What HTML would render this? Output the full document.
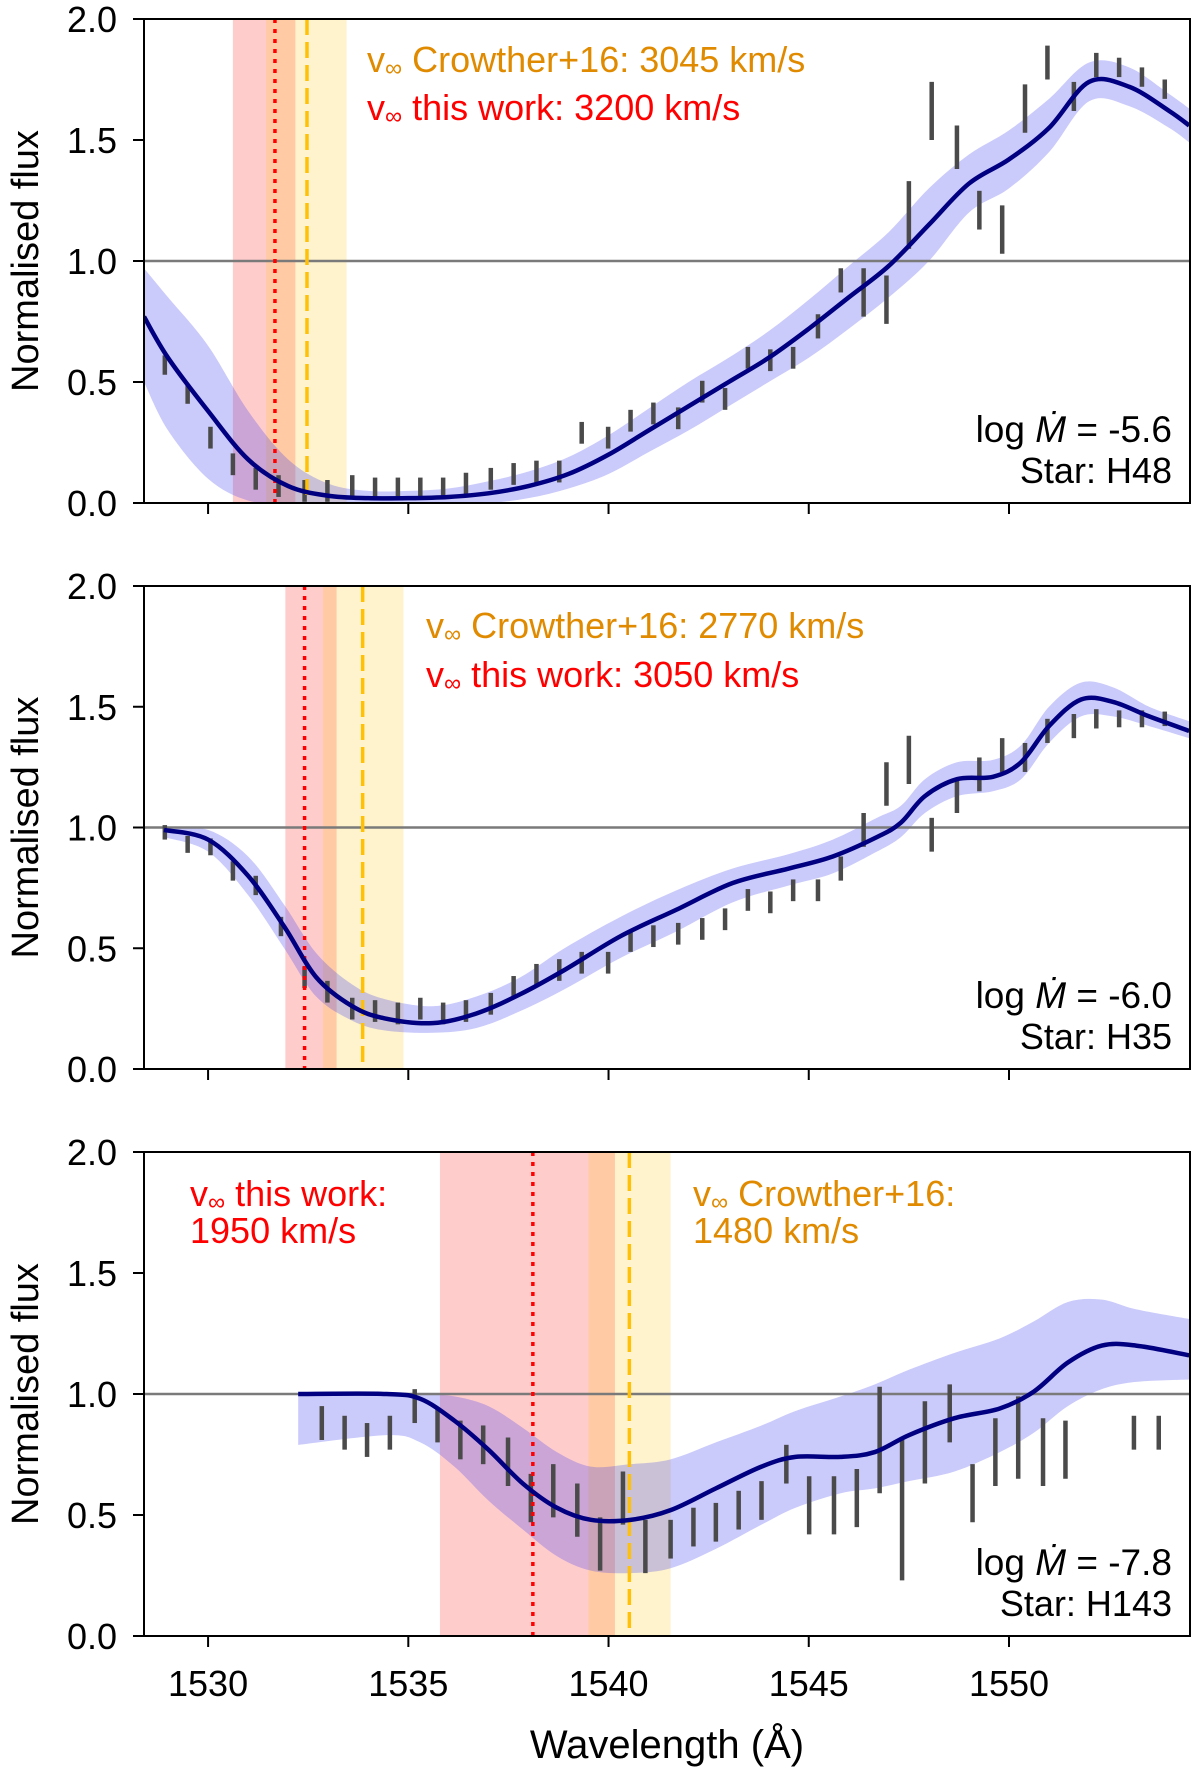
<!DOCTYPE html>
<html><head><meta charset="utf-8">
<style>
html,body{margin:0;padding:0;background:#fff;}
svg{display:block;font-family:"Liberation Sans","DejaVu Sans",sans-serif;}
</style></head>
<body>
<svg id="chart" width="1200" height="1784" viewBox="0 0 1200 1784"></svg>
<script>
// ---------- Panel 1 (H48) ----------
const p1ModelWl = [1528.4,1529,1530,1531,1532,1533,1534,1535,1536,1537,1538,1539,1540,1541,1542,1543,1544,1545,1546,1547,1548,1549,1550,1551,1552,1553,1554,1554.5];
const p1ModelFlux = [0.77,0.6,0.38,0.18,0.07,0.03,0.02,0.02,0.025,0.04,0.07,0.12,0.2,0.3,0.4,0.5,0.6,0.72,0.85,0.98,1.15,1.32,1.42,1.55,1.74,1.72,1.62,1.56];
const p1BandLo = [0.5,0.3,0.1,0.01,0.0,0.0,0.0,0.0,0.0,0.0,0.02,0.06,0.12,0.21,0.3,0.4,0.5,0.6,0.72,0.85,1.0,1.2,1.3,1.45,1.66,1.64,1.55,1.49];
const p1BandHi = [0.97,0.85,0.65,0.38,0.18,0.08,0.05,0.05,0.06,0.09,0.13,0.19,0.28,0.39,0.5,0.6,0.71,0.84,0.98,1.12,1.3,1.44,1.54,1.67,1.82,1.8,1.69,1.63];
const p1DataWl = [1528.92,1529.49,1530.06,1530.62,1531.19,1531.76,1532.41,1532.98,1533.6,1534.17,1534.74,1535.3,1535.87,1536.44,1537.06,1537.63,1538.2,1538.77,1539.33,1539.99,1540.55,1541.12,1541.74,1542.34,1542.91,1543.48,1544.04,1544.61,1545.23,1545.8,1546.37,1546.94,1547.5,1548.07,1548.7,1549.26,1549.83,1550.4,1550.96,1551.62,1552.18,1552.75,1553.32,1553.89];
const p1DataFlux = [0.57,0.45,0.27,0.16,0.1,0.07,0.05,0.05,0.07,0.06,0.06,0.06,0.06,0.08,0.1,0.12,0.13,0.13,0.29,0.27,0.34,0.37,0.35,0.46,0.43,0.6,0.59,0.6,0.73,0.92,0.87,0.84,1.19,1.62,1.47,1.21,1.13,1.63,1.82,1.68,1.81,1.8,1.76,1.71];
const p1DataErr = [0.04,0.04,0.045,0.045,0.045,0.045,0.045,0.045,0.045,0.045,0.045,0.045,0.045,0.045,0.045,0.045,0.045,0.045,0.045,0.045,0.045,0.045,0.045,0.045,0.045,0.045,0.045,0.045,0.05,0.05,0.1,0.1,0.14,0.12,0.09,0.08,0.1,0.1,0.07,0.06,0.05,0.04,0.04,0.04];

// ---------- Panel 2 (H35) ----------
const p2ModelWl = [1528.9,1530,1531,1531.9,1532.7,1533.6,1534.4,1535.6,1536.7,1537.8,1538.9,1540.3,1541.7,1543.1,1544.5,1545.6,1546.7,1547.3,1547.9,1548.7,1549.6,1550.3,1551,1551.8,1552.6,1553.5,1554.5];
const p2ModelFlux = [0.99,0.95,0.8,0.59,0.38,0.26,0.21,0.19,0.23,0.31,0.41,0.55,0.66,0.77,0.83,0.88,0.96,1.02,1.13,1.2,1.21,1.27,1.42,1.53,1.52,1.46,1.4];
const p2BandLo = [0.96,0.9,0.72,0.5,0.3,0.2,0.16,0.15,0.17,0.24,0.33,0.46,0.57,0.69,0.76,0.81,0.9,0.96,1.06,1.13,1.15,1.2,1.35,1.46,1.46,1.42,1.37];
const p2BandHi = [1.0,0.99,0.88,0.68,0.48,0.35,0.29,0.26,0.3,0.38,0.5,0.63,0.74,0.83,0.89,0.95,1.04,1.09,1.2,1.27,1.28,1.34,1.5,1.6,1.58,1.5,1.44];
const p2DataWl = [1528.92,1529.49,1530.06,1530.62,1531.19,1531.82,1532.41,1532.98,1533.6,1534.17,1534.74,1535.3,1535.87,1536.44,1537.06,1537.63,1538.2,1538.77,1539.33,1539.99,1540.55,1541.12,1541.74,1542.34,1542.91,1543.48,1544.04,1544.61,1545.23,1545.8,1546.37,1546.94,1547.5,1548.07,1548.7,1549.26,1549.83,1550.4,1550.96,1551.62,1552.18,1552.75,1553.32,1553.89];
const p2DataFlux = [0.98,0.93,0.92,0.82,0.76,0.59,0.38,0.32,0.25,0.24,0.23,0.25,0.23,0.24,0.27,0.34,0.39,0.41,0.44,0.44,0.53,0.55,0.56,0.58,0.62,0.7,0.69,0.74,0.74,0.83,0.99,1.18,1.28,0.97,1.13,1.22,1.3,1.29,1.4,1.42,1.45,1.45,1.45,1.45];
const p2DataErr = [0.03,0.035,0.035,0.04,0.04,0.04,0.045,0.045,0.045,0.045,0.045,0.045,0.045,0.045,0.045,0.045,0.045,0.045,0.045,0.045,0.045,0.045,0.045,0.045,0.045,0.045,0.045,0.045,0.045,0.05,0.07,0.09,0.1,0.07,0.07,0.07,0.07,0.06,0.05,0.05,0.04,0.035,0.035,0.03];

// ---------- Panel 3 (H143) ----------
const p3ModelWl = [1532.25,1534.46,1535.3,1536.15,1537.0,1537.86,1538.71,1539.56,1540.55,1541.55,1542.68,1543.82,1544.67,1545.8,1546.65,1547.5,1548.64,1549.77,1550.62,1551.47,1552.32,1553.17,1554.5];
const p3ModelFlux = [1.0,1.0,0.98,0.89,0.77,0.63,0.53,0.48,0.48,0.52,0.61,0.7,0.74,0.74,0.76,0.83,0.9,0.94,1.01,1.13,1.2,1.2,1.16];
const p3BandLo = [0.79,0.83,0.8,0.7,0.56,0.44,0.33,0.27,0.26,0.28,0.36,0.46,0.53,0.59,0.61,0.64,0.68,0.76,0.84,0.95,1.02,1.05,1.06];
const p3BandHi = [1.0,1.0,1.0,0.99,0.95,0.86,0.76,0.7,0.71,0.73,0.8,0.87,0.93,0.99,1.04,1.1,1.17,1.23,1.3,1.38,1.39,1.35,1.31];
const p3DataWl = [1532.84,1533.41,1533.97,1534.54,1535.16,1535.73,1536.3,1536.87,1537.49,1538.06,1538.62,1539.22,1539.79,1540.36,1540.92,1541.55,1542.12,1542.68,1543.25,1543.82,1544.44,1545.01,1545.63,1546.2,1546.77,1547.33,1547.9,1548.52,1549.09,1549.66,1550.23,1550.85,1551.41,1553.12,1553.74];
const p3DataFlux = [0.88,0.84,0.81,0.84,0.95,0.87,0.81,0.79,0.72,0.57,0.6,0.52,0.38,0.57,0.37,0.4,0.45,0.47,0.52,0.56,0.71,0.54,0.54,0.57,0.81,0.52,0.8,0.92,0.59,0.76,0.82,0.76,0.77,0.84,0.84];
const p3DataErr = [0.07,0.07,0.07,0.07,0.07,0.07,0.08,0.08,0.1,0.1,0.11,0.11,0.11,0.11,0.11,0.08,0.08,0.08,0.08,0.08,0.08,0.12,0.12,0.12,0.22,0.29,0.17,0.12,0.12,0.14,0.17,0.14,0.12,0.07,0.07];

// vertical markers: [redLo, redHi, yellowLo, yellowHi, redLine, yellowLine]
const p1Vinf = [1530.62,1532.18,1531.45,1533.46,1531.67,1532.47];
const p2Vinf = [1531.93,1533.21,1532.87,1534.88,1532.41,1533.86];
const p3Vinf = [1535.79,1540.16,1539.5,1541.55,1538.11,1540.52];

const xTicks = [1530,1535,1540,1545,1550];
const yTicks = [0.0,0.5,1.0,1.5,2.0];
const yTickLabels = ["0.0","0.5","1.0","1.5","2.0"];

const NS = "http://www.w3.org/2000/svg";
const svg = document.getElementById('chart');
const X0 = 144, X1 = 1190, WLMIN = 1528.4, WLMAX = 1554.52;
function xs(w){ return X0 + (w - WLMIN) / (WLMAX - WLMIN) * (X1 - X0); }

function mk(tag, attrs, parent){
  const e = document.createElementNS(NS, tag);
  for (const k in attrs) e.setAttribute(k, attrs[k]);
  (parent || svg).appendChild(e);
  return e;
}
function smoothPath(pts){
  let d = "M" + pts[0][0].toFixed(2) + "," + pts[0][1].toFixed(2);
  for (let i = 0; i < pts.length - 1; i++){
    const p0 = pts[i-1] || pts[i], p1 = pts[i], p2 = pts[i+1], p3 = pts[i+2] || p2;
    const c1x = p1[0] + (p2[0]-p0[0])/6, c1y = p1[1] + (p2[1]-p0[1])/6;
    const c2x = p2[0] - (p3[0]-p1[0])/6, c2y = p2[1] - (p3[1]-p1[1])/6;
    d += " C" + c1x.toFixed(2)+","+c1y.toFixed(2)+" "+c2x.toFixed(2)+","+c2y.toFixed(2)+" "+p2[0].toFixed(2)+","+p2[1].toFixed(2);
  }
  return d;
}

const panels = [
  {top:19, bot:503, mw:p1ModelWl, mf:p1ModelFlux, lo:p1BandLo, hi:p1BandHi, dw:p1DataWl, df:p1DataFlux, de:p1DataErr, v:p1Vinf,
   ann:[{x:367,y:72,c:"#e08a00",t:"Crowther+16: 3045 km/s"},{x:367,y:120,c:"#ff0000",t:"this work: 3200 km/s"}],
   mdot:"-5.6", star:"H48"},
  {top:586, bot:1069, mw:p2ModelWl, mf:p2ModelFlux, lo:p2BandLo, hi:p2BandHi, dw:p2DataWl, df:p2DataFlux, de:p2DataErr, v:p2Vinf,
   ann:[{x:426,y:638,c:"#e08a00",t:"Crowther+16: 2770 km/s"},{x:426,y:687,c:"#ff0000",t:"this work: 3050 km/s"}],
   mdot:"-6.0", star:"H35"},
  {top:1152, bot:1636, mw:p3ModelWl, mf:p3ModelFlux, lo:p3BandLo, hi:p3BandHi, dw:p3DataWl, df:p3DataFlux, de:p3DataErr, v:p3Vinf,
   ann:[{x:190,y:1206,c:"#ff0000",t:"this work:"},{x:190,y:1243,c:"#ff0000",t:"1950 km/s",plain:true},
        {x:693,y:1206,c:"#e08a00",t:"Crowther+16:"},{x:693,y:1243,c:"#e08a00",t:"1480 km/s",plain:true}],
   mdot:"-7.8", star:"H143"}
];

panels.forEach((p, i) => {
  const ys = f => p.bot - f / 2.0 * (p.bot - p.top);
  const g = mk('g', {});
  
  
  const clipId = 'clip' + i;
  const cp = mk('clipPath', {id: clipId}, g);
  mk('rect', {x:X0, y:p.top, width:X1-X0, height:p.bot-p.top}, cp);
  const plot = mk('g', {'clip-path':'url(#'+clipId+')'}, g);

  const rb = mk('rect', {x:xs(p.v[0]), y:p.top, width:xs(p.v[1])-xs(p.v[0]), height:p.bot-p.top, fill:'rgba(255,0,0,0.2)'}, plot);
  
  
  const yb = mk('rect', {x:xs(p.v[2]), y:p.top, width:xs(p.v[3])-xs(p.v[2]), height:p.bot-p.top, fill:'rgba(255,193,7,0.2)'}, plot);
  
  

  const up = p.mw.map((w,k)=>[xs(w), ys(p.hi[k])]);
  const lp = p.mw.map((w,k)=>[xs(w), ys(p.lo[k])]).reverse();
  let bd = smoothPath(up) + " L" + lp[0][0] + "," + lp[0][1] + smoothPath(lp).replace(/^M[^C]*/, " ") + " Z";
  const band = mk('path', {d:bd, fill:'rgba(60,60,240,0.27)', stroke:'none'}, plot);
  
  

  const cl = mk('line', {x1:X0, x2:X1, y1:ys(1), y2:ys(1), stroke:'#7a7a7a', 'stroke-width':2.5}, plot);
  
  

  p.dw.forEach((w,k)=>{
    const eb = mk('line', {x1:xs(w), x2:xs(w), y1:ys(p.df[k]-p.de[k]), y2:ys(p.df[k]+p.de[k]), stroke:'#4a4a4a', 'stroke-width':4.5}, plot);
    
    
  });

  const rl = mk('line', {x1:xs(p.v[4]), x2:xs(p.v[4]), y1:p.top, y2:p.bot, stroke:'#ff0000', 'stroke-width':3.5, 'stroke-dasharray':'4,6'}, plot);
  
  
  const yl = mk('line', {x1:xs(p.v[5]), x2:xs(p.v[5]), y1:p.top, y2:p.bot, stroke:'#ffc107', 'stroke-width':3.5, 'stroke-dasharray':'16,7'}, plot);
  
  

  const ml = mk('path', {d:smoothPath(p.mw.map((w,k)=>[xs(w), ys(p.mf[k])])), fill:'none', stroke:'#000080', 'stroke-width':4.5}, plot);
  
  

  const fr = mk('rect', {x:X0, y:p.top, width:X1-X0, height:p.bot-p.top, fill:'none', stroke:'#000', 'stroke-width':2}, g);
  
  

  xTicks.forEach(t=>{
    const tk = mk('line', {x1:xs(t), x2:xs(t), y1:p.bot, y2:p.bot+11, stroke:'#000', 'stroke-width':2}, g);
    
    
  });
  yTicks.forEach((t,k)=>{
    const tk = mk('line', {x1:X0-11, x2:X0, y1:ys(t), y2:ys(t), stroke:'#000', 'stroke-width':2}, g);
    
    
    const tl = mk('text', {x:117, y:ys(t)+13, 'text-anchor':'end', 'font-size':36, fill:'#000'}, g);
    tl.textContent = yTickLabels[k];
    
    
  });

  const cy = (p.top + p.bot)/2;
  const yt = mk('text', {x:38, y:cy, transform:'rotate(-90 38 '+cy+')', 'text-anchor':'middle', 'font-size':38, fill:'#000'}, g);
  yt.textContent = 'Normalised flux';
  
  

  p.ann.forEach(a=>{
    const t = mk('text', {x:a.x, y:a.y, 'font-size':36, fill:a.c}, g);
    
    
    if (a.plain){ t.textContent = a.t; }
    else {
      const s1 = mk('tspan', {}, t); s1.textContent = 'v';
      const s2 = mk('tspan', {'font-size':24, dy:4}, t); s2.textContent = '\u221E';
      const s3 = mk('tspan', {dy:-4}, t); s3.textContent = ' ' + a.t;
    }
  });

  const ms = mk('text', {x:1172, y:p.bot-61, 'text-anchor':'end', 'font-size':37, fill:'#000'}, g);
  
  
  const a1 = mk('tspan', {}, ms); a1.textContent = 'log ';
  const a2 = mk('tspan', {'font-style':'italic'}, ms); a2.textContent = '\u1E40';
  const a3 = mk('tspan', {}, ms); a3.textContent = ' = ' + p.mdot;
  const st = mk('text', {x:1172, y:p.bot-20, 'text-anchor':'end', 'font-size':36, fill:'#000'}, g);
  st.textContent = 'Star: ' + p.star;
  
  
});

xTicks.forEach(t=>{
  const tl = mk('text', {x:xs(t), y:1696, 'text-anchor':'middle', 'font-size':36, fill:'#000'});
  tl.textContent = String(t);
  
  
});
const xt = mk('text', {x:667, y:1758, 'text-anchor':'middle', 'font-size':40, fill:'#000'});
xt.textContent = 'Wavelength (\u00C5)';


</script>
</body></html>
